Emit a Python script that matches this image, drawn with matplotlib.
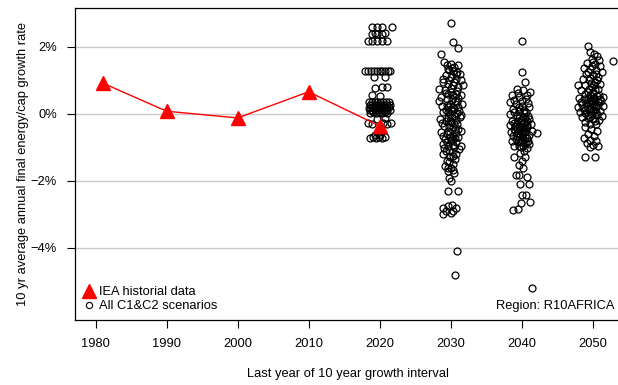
import numpy as np
import matplotlib
matplotlib.use("Agg")
import matplotlib.pyplot as plt
from matplotlib.lines import Line2D

plt.rcParams['font.family'] = ['Liberation Sans', 'DejaVu Sans']

# IEA historical 10-year growth rates (%)
iea_years = [1981, 1990, 2000, 2010, 2020]
iea_rates = [0.92, 0.08, -0.12, 0.66, -0.36]

# scenario points (year with jitter, rate %)
sc_2020 = [(2019.0, 2.6), (2019.7, 2.6), (2020.3, 2.6), (2021.7, 2.6),
           (2018.9, 2.39), (2019.4, 2.4), (2019.6, 2.39), (2020.3, 2.39), (2020.7, 2.4),
           (2018.3, 2.18), (2019.0, 2.18), (2019.7, 2.18), (2020.4, 2.18), (2021.0, 2.18),
           (2017.9, 1.28), (2018.4, 1.28), (2018.8, 1.27), (2019.2, 1.28), (2019.6, 1.28),
           (2020.0, 1.27), (2020.4, 1.28), (2020.8, 1.28), (2021.2, 1.27), (2021.4, 1.28),
           (2019.2, 1.1), (2020.7, 1.1), (2019.3, 0.78), (2020.4, 0.8), (2021.0, 0.8),
           (2019.0, 0.55), (2020.0, 0.52),
           (2018.5, 0.36), (2018.9, 0.35), (2019.3, 0.36), (2019.7, 0.35), (2020.1, 0.36),
           (2020.5, 0.35), (2020.9, 0.36), (2021.3, 0.35),
           (2018.6, 0.27), (2019.0, 0.28), (2019.4, 0.27), (2019.8, 0.28), (2020.2, 0.27),
           (2020.6, 0.28), (2021.0, 0.27), (2021.4, 0.28),
           (2018.5, 0.19), (2018.9, 0.2), (2019.3, 0.19), (2019.7, 0.2), (2020.1, 0.19),
           (2020.5, 0.2), (2020.9, 0.19), (2021.3, 0.2),
           (2018.6, 0.11), (2019.0, 0.12), (2019.4, 0.11), (2019.8, 0.12), (2020.2, 0.11),
           (2020.6, 0.12), (2021.0, 0.11), (2021.4, 0.12),
           (2018.7, 0.04), (2019.1, 0.05), (2019.5, 0.04), (2019.9, 0.05), (2020.3, 0.04),
           (2020.7, 0.05), (2021.1, 0.04),
           (2018.4, -0.28), (2019.0, -0.3), (2020.5, -0.28), (2021.0, -0.3), (2021.6, -0.28),
           (2019.6, -0.15), (2020.8, -0.12),
           (2018.6, -0.72), (2019.1, -0.7), (2019.5, -0.72), (2019.9, -0.7), (2020.3, -0.72),
           (2020.7, -0.7), (2019.3, -0.62), (2020.1, -0.63)]

sc_2030 = [(2030.0, 2.72), (2030.3, 2.15), (2031.0, 1.98), (2028.6, 1.78),
           (2029.1, 1.55), (2029.5, 1.45), (2030.0, 1.5), (2030.5, 1.4), (2031.0, 1.45),
           (2029.8, 1.3), (2030.4, 1.28), (2031.3, 1.2), (2029.3, 1.15), (2030.1, 1.1),
           (2030.8, 1.05), (2031.5, 1.0), (2028.9, 0.95), (2029.6, 0.9), (2030.3, 0.85),
           (2031.1, 0.8), (2028.4, 0.75), (2029.2, 0.7), (2030.0, 0.65), (2030.7, 0.6),
           (2031.4, 0.55), (2028.7, 0.5), (2029.5, 0.45), (2030.2, 0.4), (2030.9, 0.35),
           (2031.6, 0.3), (2028.8, 0.25), (2029.7, 0.2), (2030.5, 0.15), (2031.2, 0.1),
           (2029.0, 0.05), (2029.9, 0.0), (2030.6, -0.05), (2031.3, -0.1), (2028.5, -0.15),
           (2029.4, -0.2), (2030.1, -0.25), (2030.9, -0.3), (2029.1, -0.35), (2029.8, -0.4),
           (2030.6, -0.45), (2031.4, -0.5), (2028.6, -0.55), (2029.5, -0.6), (2030.3, -0.65),
           (2031.0, -0.7), (2029.2, -0.75), (2030.0, -0.8), (2030.8, -0.85), (2028.9, -0.9),
           (2029.7, -0.95), (2030.5, -1.0), (2031.2, -1.05), (2029.4, -1.1), (2030.2, -1.15),
           (2029.0, -1.2), (2029.9, -1.3), (2030.6, -1.35), (2029.5, -1.4), (2030.3, -1.5),
           (2029.2, -1.55), (2030.0, -1.62), (2029.7, -1.7), (2030.5, -1.75),
           (2029.6, 1.35), (2030.9, 1.25), (2029.0, 1.05), (2030.5, 0.95), (2031.7, 0.85),
           (2029.4, 0.62), (2030.4, 0.55), (2031.0, 0.48), (2028.3, 0.38), (2029.9, 0.3),
           (2031.0, 0.22), (2029.3, 0.12), (2030.2, 0.08), (2031.5, -0.02), (2029.6, -0.12),
           (2030.7, -0.18), (2028.8, -0.28), (2030.4, -0.38), (2031.1, -0.45), (2029.9, -0.55),
           (2028.9, -0.65), (2030.6, -0.72), (2029.5, -0.85), (2030.3, -0.92), (2031.5, -0.95),
           (2029.1, -1.02), (2030.8, -1.2), (2029.8, -1.45),
           (2030.2, 1.38), (2030.7, 1.18), (2029.8, 1.0), (2030.0, 0.78), (2030.9, 0.68),
           (2029.7, 0.58), (2030.6, 0.38), (2029.5, 0.28), (2030.3, 0.22), (2030.0, 0.15),
           (2029.6, 0.05), (2030.9, 0.02), (2030.2, -0.08), (2029.9, -0.22), (2030.5, -0.3),
           (2029.7, -0.5), (2030.7, -0.58), (2029.9, -0.7), (2030.2, -0.78), (2029.8, -1.08),
           (2030.4, -1.25), (2029.6, -1.62), (2030.3, -1.68),
           (2029.8, -1.9), (2030.1, -2.0), (2029.7, -2.3), (2031.0, -2.3),
           (2028.9, -2.8), (2029.6, -2.75), (2030.2, -2.72), (2030.8, -2.8), (2029.3, -2.9),
           (2030.0, -2.95), (2029.0, -3.0), (2030.4, -2.9), (2030.9, -4.08), (2030.6, -4.8)]

sc_2040 = [(2040.1, 2.18), (2040.0, 1.25), (2040.5, 0.96), (2039.3, 0.75), (2040.2, 0.7),
           (2041.2, 0.65), (2038.6, 0.55), (2039.6, 0.5), (2040.6, 0.45), (2038.3, 0.35),
           (2039.2, 0.3), (2040.1, 0.25), (2041.0, 0.2), (2038.8, 0.15), (2039.7, 0.1),
           (2040.6, 0.05), (2038.4, 0.0), (2039.3, -0.05), (2040.2, -0.1), (2041.1, -0.15),
           (2038.7, -0.2), (2039.5, -0.22), (2040.4, -0.25), (2041.3, -0.3), (2038.3, -0.32),
           (2039.1, -0.35), (2040.0, -0.38), (2040.8, -0.4), (2038.9, -0.45), (2039.8, -0.48),
           (2040.6, -0.5), (2041.4, -0.52), (2038.5, -0.55), (2039.4, -0.58), (2040.2, -0.6),
           (2041.0, -0.62), (2038.8, -0.65), (2039.7, -0.68), (2040.5, -0.7), (2039.2, -0.75),
           (2040.0, -0.78), (2040.9, -0.8), (2038.6, -0.82), (2039.5, -0.85), (2040.3, -0.88),
           (2041.1, -0.9), (2039.0, -0.95), (2039.9, -1.0), (2040.7, -1.02), (2042.2, -0.57),
           (2039.5, 0.62), (2040.8, 0.55), (2039.0, 0.42), (2040.0, 0.38), (2040.9, 0.32),
           (2039.6, 0.22), (2040.3, 0.12), (2039.0, 0.05), (2040.9, -0.05), (2039.7, -0.12),
           (2038.9, -0.28), (2040.0, -0.3), (2040.7, -0.32), (2039.6, -0.4), (2040.3, -0.45),
           (2039.1, -0.52), (2040.0, -0.55), (2040.8, -0.72), (2039.4, -0.7), (2040.2, -0.95),
           (2039.8, 0.15), (2040.4, 0.02), (2039.9, -0.18), (2040.5, -0.12), (2039.4, -0.28),
           (2040.4, -0.38), (2039.8, -0.62), (2040.5, -0.55), (2039.9, -0.85), (2040.6, -0.88),
           (2039.6, -0.95), (2040.1, -0.68), (2039.3, -0.42), (2040.7, -0.22),
           (2040.3, -1.1), (2039.8, -1.18), (2040.5, -1.28), (2038.9, -1.28), (2040.0, -1.4),
           (2039.6, -1.52), (2040.2, -1.62), (2039.2, -1.82), (2039.6, -1.82), (2040.8, -1.88),
           (2041.0, -2.08), (2039.8, -2.08), (2040.0, -2.42), (2040.6, -2.42), (2041.2, -2.62),
           (2039.9, -2.66), (2038.8, -2.87), (2039.5, -2.84), (2041.4, -5.2)]

sc_2050 = [(2049.3, 2.03), (2052.9, 1.58), (2047.9, 0.87),
           (2049.6, 1.85), (2050.2, 1.8), (2050.6, 1.72), (2049.9, 1.65), (2050.9, 1.6),
           (2049.2, 1.52), (2050.3, 1.48), (2051.0, 1.42), (2048.8, 1.38), (2049.7, 1.35),
           (2050.5, 1.3), (2051.3, 1.25), (2049.1, 1.2), (2050.0, 1.15), (2050.8, 1.1),
           (2048.6, 1.05), (2049.5, 1.0), (2050.3, 0.95), (2051.1, 0.9), (2049.0, 0.85),
           (2049.9, 0.8), (2050.7, 0.75), (2048.4, 0.7), (2049.3, 0.65), (2050.1, 0.6),
           (2050.9, 0.55), (2051.5, 0.5), (2048.1, 0.48), (2048.8, 0.45), (2049.6, 0.42),
           (2050.4, 0.4), (2051.2, 0.38), (2048.3, 0.35), (2049.1, 0.32), (2049.9, 0.3),
           (2050.7, 0.28), (2051.4, 0.25), (2047.9, 0.2), (2048.7, 0.18), (2049.5, 0.15),
           (2050.3, 0.12), (2051.1, 0.1), (2048.2, 0.05), (2049.0, 0.02), (2049.8, 0.0),
           (2050.6, -0.02), (2051.3, -0.05), (2048.5, -0.1), (2049.3, -0.12), (2050.1, -0.15),
           (2050.9, -0.18), (2048.9, -0.25), (2049.7, -0.3),
           (2050.0, 1.55), (2049.4, 1.25), (2050.6, 1.02), (2049.8, 0.92), (2050.4, 0.7),
           (2049.6, 0.55), (2050.2, 0.48), (2048.9, 0.58), (2049.8, 0.38), (2050.5, 0.22),
           (2049.2, 0.25), (2050.0, 0.08), (2048.5, 0.3), (2051.0, 0.45), (2049.4, -0.02),
           (2049.9, 1.42), (2050.5, 1.18), (2049.7, 1.08), (2050.2, 0.85), (2049.5, 0.75),
           (2050.0, 0.65), (2050.6, 0.52), (2049.3, 0.48), (2050.0, 0.42), (2050.8, 0.35),
           (2049.6, 0.32), (2050.2, 0.25), (2049.0, 0.12), (2049.8, 0.15), (2050.5, 0.05),
           (2049.7, -0.1), (2050.3, -0.22),
           (2050.5, -0.3), (2049.0, -0.4), (2049.8, -0.45), (2050.6, -0.5), (2049.3, -0.6),
           (2050.2, -0.65), (2048.8, -0.72), (2049.7, -0.78), (2050.5, -0.82), (2049.2, -0.88),
           (2050.1, -0.92), (2050.8, -0.95), (2049.6, -1.0), (2049.0, -1.3), (2050.4, -1.3)]

fs = 9.3

fig = plt.figure(figsize=(6.18, 3.85), dpi=100)
ax = fig.add_axes([75 / 618, 65 / 385, 546 / 618, 312 / 385])

for g in [2, 0, -2, -4]:
    ax.axhline(g, color='#c8c8c8', lw=1.0, zorder=0)

for cl in [sc_2020, sc_2030, sc_2040, sc_2050]:
    xs = [p[0] for p in cl]
    ys = [p[1] for p in cl]
    ax.plot(xs, ys, 'o', mfc='none', mec='black', ms=5, mew=0.9, zorder=2)

ax.plot(iea_years, iea_rates, '-', color='red', lw=1.0, zorder=3)
ax.plot(iea_years, iea_rates, '^', color='red', ms=9.5, zorder=4)

ax.set_xlim(1977.1, 2054.0)
ax.set_ylim(-6.15, 3.16)
ax.set_xticks([1980, 1990, 2000, 2010, 2020, 2030, 2040, 2050])
ax.set_yticks([2, 0, -2, -4])
ax.set_yticklabels(['2%', '0%', '\u22122%', '\u22124%'])
ax.tick_params(direction='out', length=6, width=0.8, labelsize=fs, pad=7)

for s in ax.spines.values():
    s.set_linewidth(0.9)

ax.set_xlabel('Last year of 10 year growth interval', fontsize=fs)
ax.xaxis.set_label_coords(0.5, -48 / 312)
ax.set_ylabel('10 yr average annual final energy/cap growth rate', fontsize=fs)
ax.yaxis.set_label_coords(-46 / 546, 0.5)

handles = [Line2D([], [], marker='^', color='red', ls='none', ms=9.5),
           Line2D([], [], marker='o', mfc='none', mec='black', ls='none', ms=4.5, mew=0.8)]
ax.legend(handles, ['IEA historial data', 'All C1&C2 scenarios'], loc='lower left',
          frameon=False, fontsize=fs, handlelength=0.9, handletextpad=0.35,
          labelspacing=0.15, borderaxespad=0.3, borderpad=0.3)

fig.text(615 / 618, 79 / 385, 'Region: R10AFRICA', ha='right', va='center', fontsize=fs)

fig.savefig('out.png', dpi=100)
